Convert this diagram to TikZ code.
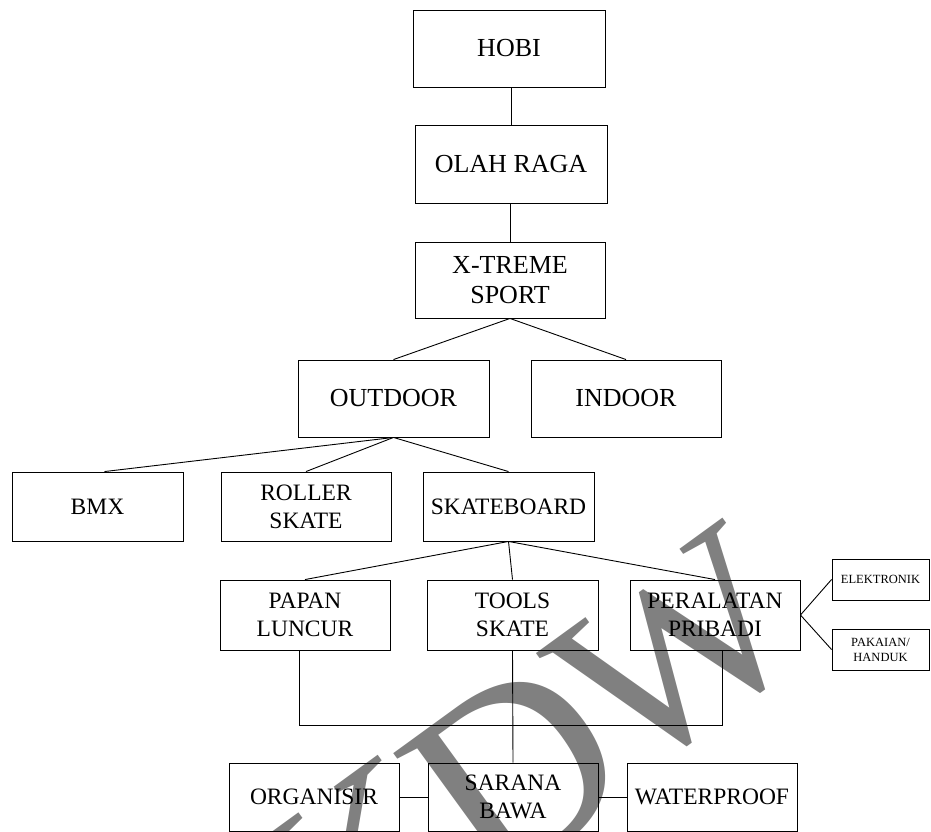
\documentclass[tikz,border=0pt]{standalone}
\usepackage{fontspec}
\setmainfont{Liberation Serif}
\usetikzlibrary{calc}
\begin{document}
\begin{tikzpicture}[x=1pt,y=-1pt]
\tikzset{
  bx/.style={draw, line width=0.9pt, inner sep=0pt, align=center},
  big/.style={font=\fontsize{26}{30}\selectfont},
  mid/.style={font=\fontsize{23.5}{28}\selectfont},
  sml/.style={font=\fontsize{12.5}{15}\selectfont},
  ln/.style={line width=0.9pt},
  wmark/.style={text=black!50, inner sep=0pt, rotate=36, font=\fontsize{265}{265}\selectfont}
}
\useasboundingbox (0,0) rectangle (931,832);
\clip (0,0) rectangle (931,832);
% watermark
\node[wmark] (wk) at (365,872) {K};
\node[wmark] (wd) at (516,772) {D};
\node[wmark, font=\fontsize{245}{245}\selectfont] (ww) at (678,652) {W};
% top levels
\node[bx, big, minimum width=192pt, minimum height=77pt] (hobi) at (509,48.5) {HOBI};
\node[bx, big, minimum width=192pt, minimum height=78pt] (olah) at (511,164) {OLAH RAGA};
\node[bx, big, minimum width=190pt, minimum height=76pt] (xt) at (510,280) {X-TREME\\SPORT};
\node[bx, big, minimum width=191pt, minimum height=77pt] (out) at (393.5,398.5) {OUTDOOR};
\node[bx, big, minimum width=190pt, minimum height=77pt] (ind) at (626,398.5) {INDOOR};
% level 3
\node[bx, mid, minimum width=171pt, minimum height=69pt] (bmx) at (97.5,506.5) {BMX};
\node[bx, mid, minimum width=170pt, minimum height=69pt] (rol) at (306,506.5) {ROLLER\\SKATE};
\node[bx, mid, minimum width=171pt, minimum height=69pt] (sk) at (508.5,506.5) {SKATEBOARD};
% level 4
\node[bx, mid, minimum width=170pt, minimum height=70pt] (pap) at (305,615) {PAPAN\\LUNCUR};
\node[bx, mid, minimum width=171pt, minimum height=70pt] (tools) at (512.5,615) {TOOLS\\SKATE};
\node[bx, mid, minimum width=170pt, minimum height=70pt] (per) at (715,615) {PERALATAN\\PRIBADI};
\node[bx, sml, minimum width=97pt, minimum height=41pt] (elek) at (880.5,579.5) {ELEKTRONIK};
\node[bx, sml, minimum width=97pt, minimum height=41pt] (pak) at (880.5,649.5) {PAKAIAN/\\HANDUK};
% bottom
\node[bx, mid, minimum width=170pt, minimum height=68pt] (org) at (314,797) {ORGANISIR};
\node[bx, mid, minimum width=170pt, minimum height=68pt] (sar) at (513,797) {SARANA\\BAWA};
\node[bx, mid, minimum width=170pt, minimum height=68pt] (wat) at (712,797) {WATERPROOF};
% connectors
\draw[ln] (olah.north |- hobi.south) -- (olah.north);
\draw[ln] (xt.north |- olah.south) -- (xt.north);
\draw[ln] (xt.south) -- (out.north);
\draw[ln] (xt.south) -- (ind.north);
\draw[ln] (out.south) -- ($(bmx.north)+(7,0)$);
\draw[ln] (out.south) -- (rol.north);
\draw[ln] (out.south) -- (sk.north);
\draw[ln] (sk.south) -- (pap.north);
\draw[ln] (sk.south) -- (tools.north);
\draw[ln] (sk.south) -- (per.north);
\draw[ln] (per.east) -- (elek.west);
\draw[ln] (per.east) -- (pak.west);
\coordinate (hl) at (0,725);
\coordinate (pl) at ($(pap.south)+(-6,0)$);
\coordinate (pr) at ($(per.south)+(7,0)$);
\draw[ln] (pl) -- (pl |- hl) -- (pr |- hl) -- (pr);
\draw[ln] (tools.south) -- (sar.north);
\draw[ln] (org.east) -- (sar.west);
\draw[ln] (sar.east) -- (wat.west);
\end{tikzpicture}
\end{document}
